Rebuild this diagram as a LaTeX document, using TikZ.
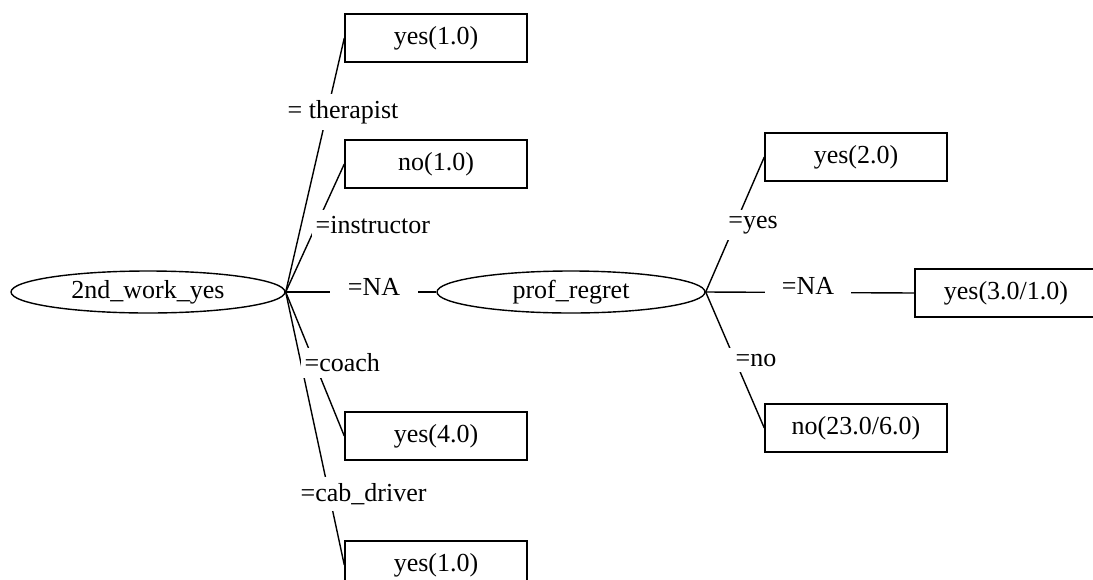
\documentclass[tikz,border=0pt]{standalone}
\usepackage{fontspec}
\setmainfont{Liberation Serif}
\usetikzlibrary{shapes.geometric}
\begin{document}
\begin{tikzpicture}[x=0.5pt,y=-0.5pt,line width=0.7pt,
    font=\fontsize{13}{15}\selectfont,
    split/.style={ellipse,draw,inner sep=0pt,minimum height=21pt},
    leaf/.style={rectangle,draw,inner sep=0pt,minimum width=91pt,minimum height=24pt},
    cond/.style={fill=white,inner xsep=2pt,inner ysep=3pt}]
    \clip (0,0) rectangle (1093,579);
    \fill[white] (0,0) rectangle (1093,579);
    % decision nodes
    \node[split,minimum width=137pt] (work) at (148,292) {2nd\_work\_yes};
    \node[split,minimum width=134pt] (regret) at (571,292) {prof\_regret};
    % leaves
    \node[leaf] (ther) at (436,38) {yes(1.0)};
    \node[leaf] (instr) at (436,164) {no(1.0)};
    \node[leaf] (coach) at (436,436) {yes(4.0)};
    \node[leaf] (cab) at (436,565) {yes(1.0)};
    \node[leaf] (ryes) at (856,157) {yes(2.0)};
    \node[leaf] (rna) at (1006,293) {yes(3.0/1.0)};
    \node[leaf] (rno) at (856,428) {no(23.0/6.0)};
    % branches
    \draw (work.east) -- (ther.west);
    \draw (work.east) -- (instr.west);
    \draw (work.east) -- (regret.west);
    \draw (work.east) -- (coach.west);
    \draw (work.east) -- (cab.west);
    \draw (regret.east) -- (ryes.west);
    \draw (regret.east) -- (rna.west);
    \draw (regret.east) -- (rno.west);
    % branch labels
    \node[cond,anchor=west] (lther) at (283,112) {= therapist};
    \node[cond,anchor=west] (linstr) at (311,225) {=instructor};
    \node[cond,minimum width=44pt] (lna) at (374,287) {=NA};
    \node[cond,anchor=west] (lcoach) at (300,363) {=coach};
    \node[cond,anchor=west] (lcab) at (296,494) {=cab\_driver};
    \node[cond,minimum width=55pt] (lyes) at (753,225) {=yes};
    \node[cond,minimum width=43pt] (rlna) at (808,286) {=NA};
    \node[cond,minimum width=41pt] (lno) at (756,360) {=no};
\end{tikzpicture}
\end{document}
